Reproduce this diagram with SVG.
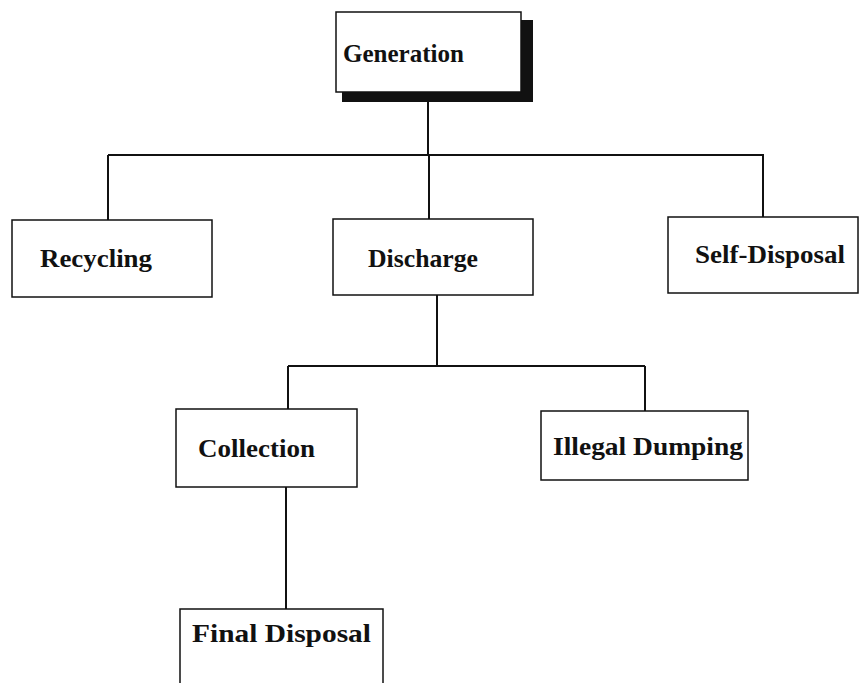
<svg xmlns="http://www.w3.org/2000/svg" width="860" height="683" viewBox="0 0 860 683">
<style>
.box{fill:#fff;stroke:#111;stroke-width:1.5}
.lbl{font-family:"Liberation Serif","Times New Roman",serif;font-weight:bold;font-size:26px;fill:#111}
.con{fill:none;stroke:#111;stroke-width:2}
</style>
<rect width="860" height="683" fill="#fff"/>
<g id="connectors">
<line class="con" x1="428" y1="101" x2="428" y2="155"/>
<line class="con" x1="108" y1="155" x2="764" y2="155"/>
<line class="con" x1="108" y1="155" x2="108" y2="220"/>
<line class="con" x1="429" y1="155" x2="429" y2="219"/>
<line class="con" x1="763" y1="155" x2="763" y2="217"/>
<line class="con" x1="437" y1="295" x2="437" y2="366"/>
<line class="con" x1="288" y1="366" x2="645" y2="366"/>
<line class="con" x1="288" y1="366" x2="288" y2="409"/>
<line class="con" x1="645" y1="366" x2="645" y2="411"/>
<line class="con" x1="286" y1="487" x2="286" y2="609"/>
</g>
<g id="generation">
<rect x="342" y="20" width="191" height="82" fill="#111"/>
<rect class="box" x="336" y="12" width="185" height="80"/>
<text class="lbl" x="343" y="62" textLength="121" lengthAdjust="spacingAndGlyphs">Generation</text>
</g>
<g id="recycling">
<rect class="box" x="12" y="220" width="200" height="77"/>
<text class="lbl" x="40" y="267" textLength="112" lengthAdjust="spacingAndGlyphs">Recycling</text>
</g>
<g id="discharge">
<rect class="box" x="333" y="219" width="200" height="76"/>
<text class="lbl" x="368" y="267" textLength="110" lengthAdjust="spacingAndGlyphs">Discharge</text>
</g>
<g id="self-disposal">
<rect class="box" x="668" y="217" width="190" height="76"/>
<text class="lbl" x="695" y="263" textLength="150" lengthAdjust="spacingAndGlyphs">Self-Disposal</text>
</g>
<g id="collection">
<rect class="box" x="176" y="409" width="181" height="78"/>
<text class="lbl" x="198" y="457" textLength="117" lengthAdjust="spacingAndGlyphs">Collection</text>
</g>
<g id="illegal-dumping">
<rect class="box" x="541" y="411" width="207" height="69"/>
<text class="lbl" x="553" y="455" textLength="190" lengthAdjust="spacingAndGlyphs">Illegal Dumping</text>
</g>
<g id="final-disposal">
<rect class="box" x="180" y="609" width="203" height="90"/>
<text class="lbl" x="192" y="642" textLength="179" lengthAdjust="spacingAndGlyphs">Final Disposal</text>
</g>
</svg>
